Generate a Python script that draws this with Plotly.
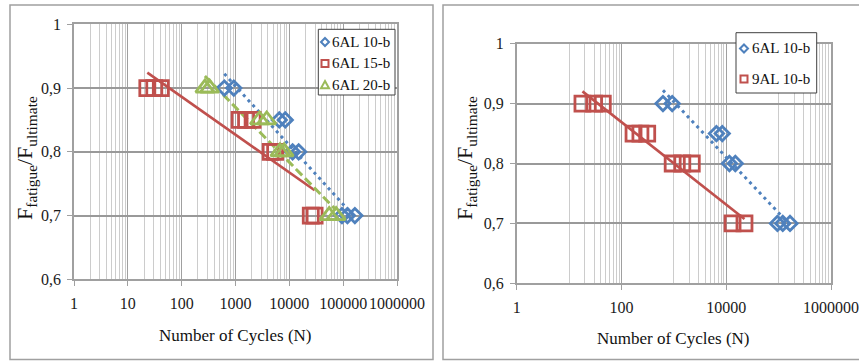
import numpy as np
import plotly.graph_objects as go

W, H = 859, 361

# ---------------- data ----------------
y_tickvals = [0.6, 0.7, 0.8, 0.9, 1.0]
y_ticktext = ["0,6", "0,7", "0,8", "0,9", "1"]
x_ticks_left = [1, 10, 100, 1000, 10000, 100000, 1000000]
x_ticks_right = [1, 100, 10000, 1000000]

al6_10b_cycles = [620, 930, 6500, 8400, 11500, 14900, 95000, 120000, 165000]
al6_10b_ratio = [0.9, 0.9, 0.85, 0.85, 0.8, 0.8, 0.7, 0.7, 0.7]

al6_15b_cycles = [23, 31, 41, 1190, 1570, 2080, 4500, 5450, 25000, 29500]
al6_15b_ratio = [0.9, 0.9, 0.9, 0.85, 0.85, 0.85, 0.8, 0.8, 0.7, 0.7]

al6_20b_cycles = [270, 330, 2800, 3800, 6700, 8000, 55000, 74000]
al6_20b_ratio = [0.9, 0.9, 0.85, 0.85, 0.8, 0.8, 0.7, 0.7]

al9_10b_cycles = [18, 30, 44, 170, 230, 310, 950, 1450, 2200, 13200, 22300]
al9_10b_ratio = [0.9, 0.9, 0.9, 0.85, 0.85, 0.85, 0.8, 0.8, 0.8, 0.7, 0.7]

# ---------------- styling ----------------
BLUE = "#4F81BD"
RED = "#C0504D"
GREEN = "#9BBB59"
SERIF = "Liberation Serif, Times New Roman, serif"


def px_x(p):
    return p / W


def px_y(p):
    return 1 - p / H


def log_trend(xs, ys):
    lx = np.log10(np.asarray(xs, dtype=float))
    b, a = np.polyfit(lx, np.asarray(ys, dtype=float), 1)
    xe = np.array([min(xs), max(xs)], dtype=float)
    return xe, a + b * np.log10(xe)


fig = go.Figure()

series = [
    # (panel, name, x, y, color, symbol, size, dash)
    ("L", "6AL 10-b", al6_10b_cycles, al6_10b_ratio, BLUE, "diamond-open", 11, "3px,4px"),
    ("L", "6AL 15-b", al6_15b_cycles, al6_15b_ratio, RED, "square-open", 15, "solid"),
    ("L", "6AL 20-b", al6_20b_cycles, al6_20b_ratio, GREEN, "triangle-up-open", 16, "9px,4px"),
    ("R", "6AL 10-b", al6_10b_cycles, al6_10b_ratio, BLUE, "diamond-open", 11, "3px,4px"),
    ("R", "9AL 10-b", al9_10b_cycles, al9_10b_ratio, RED, "square-open", 15, "solid"),
]

# trend lines first (under markers)
for panel, name, xs, ys, col, sym, size, dash in series:
    xa, ya = ("x", "y") if panel == "L" else ("x2", "y2")
    tx, ty = log_trend(xs, ys)
    fig.add_trace(go.Scatter(x=tx, y=ty, mode="lines", xaxis=xa, yaxis=ya,
                             line=dict(color=col, width=2.6 if dash == "solid" else 3, dash=dash),
                             showlegend=False, hoverinfo="skip"))

for panel, name, xs, ys, col, sym, size, dash in series:
    xa, ya = ("x", "y") if panel == "L" else ("x2", "y2")
    fig.add_trace(go.Scatter(x=xs, y=ys, mode="markers", name=name, xaxis=xa, yaxis=ya,
                             marker=dict(symbol=sym, size=size, color=col,
                                         line=dict(color=col, width=2.8)),
                             showlegend=False))

tickfont = dict(family=SERIF, size=16, color="#1a1a1a")


def xaxis_cfg(domain, tickvals, minorvals, anchor):
    return dict(type="log", range=[0, 6], domain=domain, anchor=anchor,
                tickmode="array", tickvals=tickvals, ticktext=[str(v) for v in tickvals],
                tickangle=0, automargin=False,
                showgrid=True, gridcolor="#a0a0a0", gridwidth=1,
                minor=dict(tickmode="array", tickvals=minorvals, showgrid=True,
                           gridcolor="#cccccc", gridwidth=1, ticks=""),
                showline=True, linecolor="#a0a0a0", linewidth=1.5, mirror=True,
                ticks="outside", ticklen=5, tickcolor="#a0a0a0", tickwidth=1,
                tickfont=tickfont, ticklabelstandoff=4, zeroline=False, fixedrange=True)


def yaxis_cfg(domain, anchor):
    return dict(range=[0.6, 1.0], domain=domain, anchor=anchor,
                tickmode="array", tickvals=y_tickvals, ticktext=y_ticktext,
                automargin=False,
                showgrid=True, gridcolor="#999999", gridwidth=2,
                showline=True, linecolor="#a0a0a0", linewidth=1.5, mirror=True,
                ticks="outside", ticklen=5, tickcolor="#a0a0a0", tickwidth=1,
                tickfont=tickfont, ticklabelstandoff=3, zeroline=False, fixedrange=True)


minor_left = [k * 10 ** d for d in range(6) for k in range(2, 10)]
minor_right = [k * 10 ** (2 * j + 1) for j in range(3) for k in range(1, 10)]

fig.update_layout(
    width=W, height=H, margin=dict(l=0, r=0, t=0, b=0, pad=0), autosize=False,
    paper_bgcolor="white", plot_bgcolor="white", showlegend=False,
    xaxis=xaxis_cfg([px_x(74), px_x(397)], x_ticks_left, minor_left, "y"),
    yaxis=yaxis_cfg([px_y(279.3), px_y(24.3)], "x"),
    xaxis2=xaxis_cfg([px_x(516.7), px_x(831)], x_ticks_right, minor_right, "y2"),
    yaxis2=yaxis_cfg([px_y(283.3), px_y(43.7)], "x2"),
)

shapes = []
# panel frames
shapes.append(dict(type="rect", xref="paper", yref="paper",
                   x0=px_x(10), x1=px_x(433), y0=px_y(5), y1=px_y(359.5),
                   line=dict(color="#a0a0a0", width=1.5)))
shapes.append(dict(type="rect", xref="paper", yref="paper",
                   x0=px_x(443), x1=px_x(875), y0=px_y(5), y1=px_y(359.5),
                   line=dict(color="#a0a0a0", width=1.5)))


def legend_box(x0, y0, x1, y1):
    shapes.append(dict(type="rect", xref="paper", yref="paper",
                       x0=px_x(x0), x1=px_x(x1), y0=px_y(y0), y1=px_y(y1),
                       fillcolor="white", line=dict(color="#404040", width=1)))


def sym_shape(kind, cx, cy, col, r=4):
    if kind == "diamond":
        pts = [(cx, cy - r), (cx + r, cy), (cx, cy + r), (cx - r, cy)]
    elif kind == "square":
        r2 = r - 0.5
        pts = [(cx - r2, cy - r2), (cx + r2, cy - r2), (cx + r2, cy + r2), (cx - r2, cy + r2)]
    else:
        pts = [(cx, cy - r), (cx + r, cy + r * 0.8), (cx - r, cy + r * 0.8)]
    path = "M " + " L ".join(f"{px_x(a):.5f},{px_y(b):.5f}" for a, b in pts) + " Z"
    shapes.append(dict(type="path", xref="paper", yref="paper", path=path,
                       line=dict(color=col, width=2), fillcolor="rgba(0,0,0,0)"))


annotations = []


def text(t, x, y, size=15, xanchor="left", angle=0):
    annotations.append(dict(text=t, x=px_x(x), y=px_y(y), xref="paper", yref="paper",
                            xanchor=xanchor, yanchor="middle", showarrow=False,
                            textangle=angle,
                            font=dict(family=SERIF, size=size, color="#111111")))


# left legend
legend_box(318.3, 29.3, 395, 95)
left_leg = [("diamond", BLUE, "6AL 10-b", 42), ("square", RED, "6AL 15-b", 63.5),
            ("triangle", GREEN, "6AL 20-b", 85)]
for kind, col, name, yy in left_leg:
    sym_shape(kind, 325, yy, col)
    text(name, 330, yy)

# right legend
legend_box(736, 32.7, 816.7, 93)
right_leg = [("diamond", BLUE, "6AL 10-b", 48.5), ("square", RED, "9AL 10-b", 79)]
for kind, col, name, yy in right_leg:
    sym_shape(kind, 744, yy, col)
    text(name, 749.5, yy)

# axis titles
ytitle = "F<sub>fatigue</sub>/F<sub>ultimate</sub>"
text(ytitle, 26, 158, size=22, xanchor="center", angle=-90)
text(ytitle, 466, 158, size=22, xanchor="center", angle=-90)
text("Number of Cycles (N)", 235, 335, size=17, xanchor="center")
text("Number of Cycles (N)", 673, 338, size=17, xanchor="center")

fig.update_layout(shapes=shapes, annotations=annotations)

fig.write_html("out.html",
               config={"displayModeBar": False},
               post_script="document.body.style.margin='0px';"
                           "document.body.style.overflow='hidden';")
